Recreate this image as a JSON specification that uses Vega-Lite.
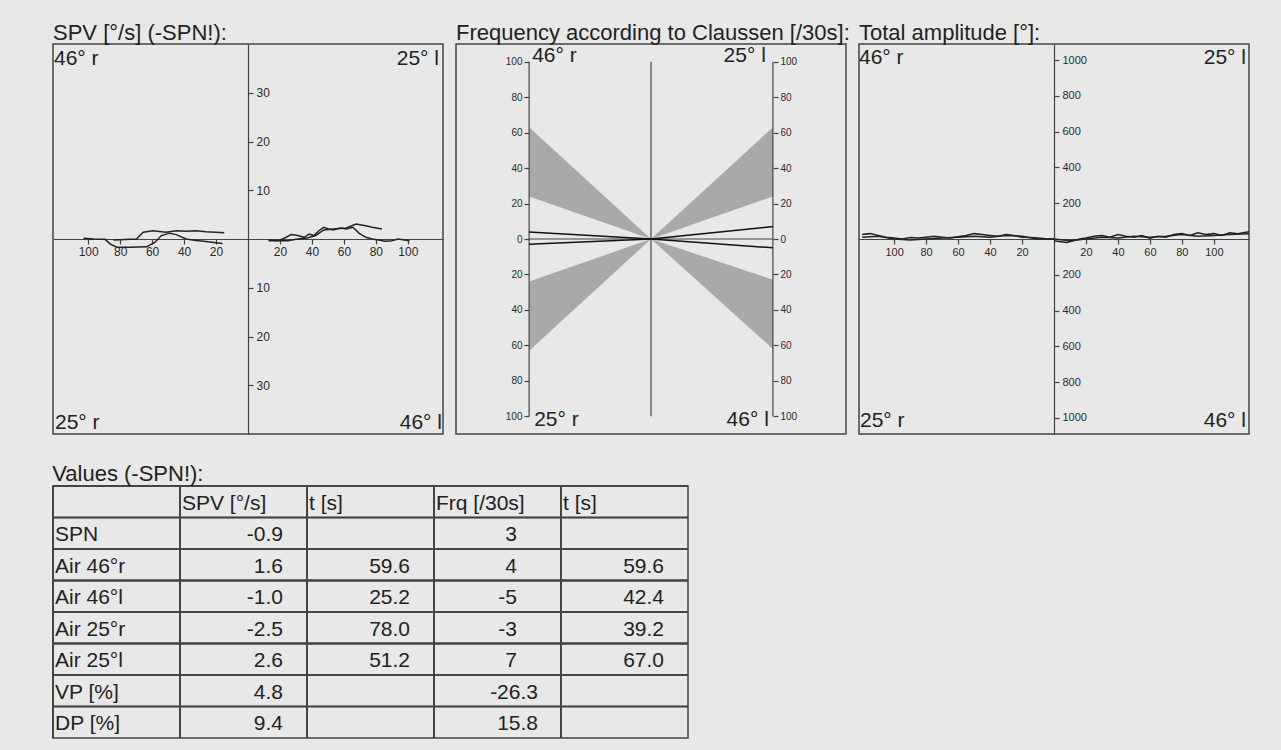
{
  "$schema": "https://vega.github.io/schema/vega-lite/v6.json",
  "background": "#e8e8e8",
  "padding": {"left": 51, "top": 21, "right": 31, "bottom": 12},
  "spacing": 27,
  "config": {
    "font": "Liberation Sans",
    "view": {"stroke": "#444", "strokeWidth": 1.5},
    "title": {"anchor": "start", "fontSize": 22, "fontWeight": "normal", "color": "#222", "font": "Liberation Sans", "offset": -1},
    "axis": {"labelFont": "Liberation Sans", "labelColor": "#2a2a2a", "tickColor": "#444", "domainColor": "#444", "domainWidth": 1.2, "tickWidth": 1.2, "grid": false, "labelOverlap": false, "labelBound": false, "labelFlush": false},
    "text": {"font": "Liberation Sans", "color": "#222"}
  },
  "vconcat": [
    {
      "bounds": "flush",
      "spacing": 13,
      "hconcat": [
        {
          "title": "SPV [°/s] (-SPN!):",
          "width": 390,
          "height": 390,
          "resolve": {"axis": {"x": "independent", "y": "independent"}},
          "layer": [
            {
              "data": {"values": [
                {"trace": "L1", "t": -102.9, "v": 0.14}, {"trace": "L1", "t": -96.6, "v": 0}, {"trace": "L1", "t": -89.4, "v": -0.07}, {"trace": "L1", "t": -86.3, "v": -1.0}, {"trace": "L1", "t": -82.2, "v": -1.7}, {"trace": "L1", "t": -73.9, "v": -1.7}, {"trace": "L1", "t": -63.5, "v": -1.6}, {"trace": "L1", "t": -58.3, "v": -0.7}, {"trace": "L1", "t": -54.2, "v": 0.7}, {"trace": "L1", "t": -49, "v": 1.2}, {"trace": "L1", "t": -44.9, "v": 0.9}, {"trace": "L1", "t": -38.7, "v": 0}, {"trace": "L1", "t": -32.5, "v": -0.3}, {"trace": "L1", "t": -26.3, "v": -0.5}, {"trace": "L1", "t": -20.1, "v": -0.75}, {"trace": "L1", "t": -15.9, "v": -0.9},
                {"trace": "L2", "t": -84.2, "v": -0.2}, {"trace": "L2", "t": -69.8, "v": 0}, {"trace": "L2", "t": -65.6, "v": 1.4}, {"trace": "L2", "t": -59.4, "v": 1.7}, {"trace": "L2", "t": -51.4, "v": 1.4}, {"trace": "L2", "t": -44.9, "v": 1.7}, {"trace": "L2", "t": -38.7, "v": 1.6}, {"trace": "L2", "t": -32.5, "v": 1.7}, {"trace": "L2", "t": -26.3, "v": 1.5}, {"trace": "L2", "t": -20.1, "v": 1.4}, {"trace": "L2", "t": -14.9, "v": 1.3},
                {"trace": "R1", "t": 12.9, "v": -0.2}, {"trace": "R1", "t": 19, "v": -0.34}, {"trace": "R1", "t": 23, "v": 0.2}, {"trace": "R1", "t": 27, "v": 0.9}, {"trace": "R1", "t": 31.1, "v": 0.7}, {"trace": "R1", "t": 35.2, "v": 0.34}, {"trace": "R1", "t": 38.2, "v": 1.03}, {"trace": "R1", "t": 41.3, "v": 0.7}, {"trace": "R1", "t": 44.3, "v": 1.7}, {"trace": "R1", "t": 47.4, "v": 2.4}, {"trace": "R1", "t": 50.4, "v": 2.05}, {"trace": "R1", "t": 53.4, "v": 1.85}, {"trace": "R1", "t": 57.5, "v": 2.26}, {"trace": "R1", "t": 61.5, "v": 2.05}, {"trace": "R1", "t": 65.6, "v": 2.4}, {"trace": "R1", "t": 69.6, "v": 1.16}, {"trace": "R1", "t": 73.7, "v": 0.34}, {"trace": "R1", "t": 77.7, "v": 0}, {"trace": "R1", "t": 81.8, "v": -0.2}, {"trace": "R1", "t": 85.8, "v": -0.48}, {"trace": "R1", "t": 89.9, "v": -0.34}, {"trace": "R1", "t": 93.9, "v": 0}, {"trace": "R1", "t": 98, "v": -0.2}, {"trace": "R1", "t": 101, "v": -0.34},
                {"trace": "R2", "t": 12.9, "v": -0.34}, {"trace": "R2", "t": 25, "v": -0.34}, {"trace": "R2", "t": 31.1, "v": 0}, {"trace": "R2", "t": 37, "v": 0.2}, {"trace": "R2", "t": 42.3, "v": 0.7}, {"trace": "R2", "t": 47.4, "v": 1.85}, {"trace": "R2", "t": 53.4, "v": 2.05}, {"trace": "R2", "t": 61.5, "v": 2.26}, {"trace": "R2", "t": 67.6, "v": 3.08}, {"trace": "R2", "t": 73.7, "v": 2.7}, {"trace": "R2", "t": 77.7, "v": 2.4}, {"trace": "R2", "t": 83.8, "v": 2.05}
              ]},
              "mark": {"type": "line", "color": "#222", "strokeWidth": 1.5},
              "encoding": {
                "x": {"field": "t", "type": "quantitative", "scale": {"domain": [-122, 122], "nice": false, "zero": false}, "axis": {"orient": "bottom", "offset": -195, "values": [-100, -80, -60, -40, -20, 20, 40, 60, 80, 100], "labelExpr": "'' + abs(datum.value)", "tickSize": 5, "labelPadding": 2, "labelFontSize": 12, "title": null}},
                "y": {"field": "v", "type": "quantitative", "scale": {"domain": [-40, 40], "nice": false}, "axis": {"orient": "right", "offset": -195, "values": [-30, -20, -10, 10, 20, 30], "labelExpr": "'' + abs(datum.value)", "tickSize": 5, "labelPadding": 3, "labelFontSize": 12, "title": null}},
                "detail": {"field": "trace"}
              }
            },
            {"data": {"values": [{"label": "46° r"}]}, "mark": {"type": "text", "fontSize": 21, "align": "left", "baseline": "top", "dx": 1, "dy": 4}, "encoding": {"text": {"field": "label"}, "x": {"datum": -122, "type": "quantitative", "axis": null}, "y": {"datum": 40, "type": "quantitative", "axis": null}}},
            {"data": {"values": [{"label": "25° l"}]}, "mark": {"type": "text", "fontSize": 21, "align": "right", "baseline": "top", "dx": -4, "dy": 4}, "encoding": {"text": {"field": "label"}, "x": {"datum": 122, "type": "quantitative", "axis": null}, "y": {"datum": 40, "type": "quantitative", "axis": null}}},
            {"data": {"values": [{"label": "25° r"}]}, "mark": {"type": "text", "fontSize": 21, "align": "left", "baseline": "alphabetic", "dx": 2, "dy": -5}, "encoding": {"text": {"field": "label"}, "x": {"datum": -122, "type": "quantitative", "axis": null}, "y": {"datum": -40, "type": "quantitative", "axis": null}}},
            {"data": {"values": [{"label": "46° l"}]}, "mark": {"type": "text", "fontSize": 21, "align": "right", "baseline": "alphabetic", "dx": -1, "dy": -5}, "encoding": {"text": {"field": "label"}, "x": {"datum": 122, "type": "quantitative", "axis": null}, "y": {"datum": -40, "type": "quantitative", "axis": null}}}
          ]
        },
        {
          "title": "Frequency according to Claussen [/30s]:",
          "width": 390,
          "height": 390,
          "resolve": {"axis": {"y": "independent"}},
          "layer": [
            {
              "data": {"values": [
                {"fan": "UL", "x": -1, "lo": 24, "hi": 63}, {"fan": "UL", "x": 0, "lo": 0, "hi": 0},
                {"fan": "LL", "x": -1, "lo": -24, "hi": -63}, {"fan": "LL", "x": 0, "lo": 0, "hi": 0},
                {"fan": "UR", "x": 0, "lo": 0, "hi": 0}, {"fan": "UR", "x": 1, "lo": 24, "hi": 63},
                {"fan": "LR", "x": 0, "lo": 0, "hi": 0}, {"fan": "LR", "x": 1, "lo": -23, "hi": -62}
              ]},
              "mark": {"type": "area", "color": "#a9a9a9", "opacity": 1},
              "encoding": {
                "x": {"field": "x", "type": "quantitative", "scale": {"domain": [-1.6, 1.6], "nice": false, "zero": false}, "axis": null},
                "y": {"field": "lo", "type": "quantitative", "scale": {"domain": [-110, 110], "nice": false}, "axis": {"orient": "left", "offset": -73, "values": [-100, -80, -60, -40, -20, 0, 20, 40, 60, 80, 100], "labelExpr": "'' + abs(datum.value)", "domain": false, "tickSize": 5, "labelPadding": 2, "labelFontSize": 10, "title": null}},
                "y2": {"field": "hi"},
                "detail": {"field": "fan"}
              }
            },
            {
              "data": {"values": [{"pos": -1}, {"pos": 0}, {"pos": 1}]},
              "mark": {"type": "rule", "color": "#444", "strokeWidth": 1.2},
              "encoding": {
                "x": {"field": "pos", "type": "quantitative", "axis": null},
                "y": {"datum": -100, "type": "quantitative", "axis": null},
                "y2": {"datum": 100}
              }
            },
            {
              "data": {"values": [{"pos": 0}]},
              "mark": {"type": "rule", "color": "#444", "strokeWidth": 1.2},
              "encoding": {
                "x": {"datum": -1, "type": "quantitative", "axis": null},
                "x2": {"datum": 1},
                "y": {"field": "pos", "type": "quantitative", "axis": null}
              }
            },
            {
              "data": {"values": [
                {"series": "Air 46°r", "x": 0, "f": 0}, {"series": "Air 46°r", "x": -1, "f": 4},
                {"series": "Air 25°r", "x": 0, "f": 0}, {"series": "Air 25°r", "x": -1, "f": -3},
                {"series": "Air 25°l", "x": 0, "f": 0}, {"series": "Air 25°l", "x": 1, "f": 7},
                {"series": "Air 46°l", "x": 0, "f": 0}, {"series": "Air 46°l", "x": 1, "f": -5}
              ]},
              "mark": {"type": "line", "color": "#111", "strokeWidth": 1.5},
              "encoding": {
                "x": {"field": "x", "type": "quantitative", "axis": null},
                "y": {"field": "f", "type": "quantitative", "axis": {"orient": "right", "offset": -73, "values": [-100, -80, -60, -40, -20, 0, 20, 40, 60, 80, 100], "labelExpr": "'' + abs(datum.value)", "domain": false, "tickSize": 5, "labelPadding": 2, "labelFontSize": 10, "title": null}},
                "detail": {"field": "series"}
              }
            },
            {"data": {"values": [{"label": "46° r"}]}, "mark": {"type": "text", "fontSize": 21, "align": "left", "baseline": "top", "dx": 3, "dy": 1}, "encoding": {"text": {"field": "label"}, "x": {"datum": -1, "type": "quantitative", "axis": null}, "y": {"datum": 110, "type": "quantitative", "axis": null}}},
            {"data": {"values": [{"label": "25° l"}]}, "mark": {"type": "text", "fontSize": 21, "align": "right", "baseline": "top", "dx": -7, "dy": 1}, "encoding": {"text": {"field": "label"}, "x": {"datum": 1, "type": "quantitative", "axis": null}, "y": {"datum": 110, "type": "quantitative", "axis": null}}},
            {"data": {"values": [{"label": "25° r"}]}, "mark": {"type": "text", "fontSize": 21, "align": "left", "baseline": "alphabetic", "dx": 5, "dy": -8}, "encoding": {"text": {"field": "label"}, "x": {"datum": -1, "type": "quantitative", "axis": null}, "y": {"datum": -110, "type": "quantitative", "axis": null}}},
            {"data": {"values": [{"label": "46° l"}]}, "mark": {"type": "text", "fontSize": 21, "align": "right", "baseline": "alphabetic", "dx": -4, "dy": -8}, "encoding": {"text": {"field": "label"}, "x": {"datum": 1, "type": "quantitative", "axis": null}, "y": {"datum": -110, "type": "quantitative", "axis": null}}}
          ]
        },
        {
          "title": "Total amplitude [°]:",
          "width": 390,
          "height": 390,
          "resolve": {"axis": {"x": "independent", "y": "independent"}},
          "layer": [
            {
              "data": {"values": [
                {"trace": "A", "t": -120, "v": 25}, {"trace": "A", "t": -115, "v": 30}, {"trace": "A", "t": -110, "v": 20}, {"trace": "A", "t": -105, "v": 10}, {"trace": "A", "t": -100, "v": 5}, {"trace": "A", "t": -95, "v": 0}, {"trace": "A", "t": -90, "v": 8}, {"trace": "A", "t": -85, "v": 5}, {"trace": "A", "t": -80, "v": 10}, {"trace": "A", "t": -75, "v": 15}, {"trace": "A", "t": -70, "v": 10}, {"trace": "A", "t": -65, "v": 5}, {"trace": "A", "t": -60, "v": 12}, {"trace": "A", "t": -55, "v": 20}, {"trace": "A", "t": -50, "v": 30}, {"trace": "A", "t": -45, "v": 25}, {"trace": "A", "t": -40, "v": 20}, {"trace": "A", "t": -35, "v": 15}, {"trace": "A", "t": -30, "v": 25}, {"trace": "A", "t": -25, "v": 20}, {"trace": "A", "t": -20, "v": 10}, {"trace": "A", "t": -15, "v": 8}, {"trace": "A", "t": -10, "v": 5}, {"trace": "A", "t": -5, "v": 2}, {"trace": "A", "t": 0, "v": 0},
                {"trace": "B", "t": -120, "v": 10}, {"trace": "B", "t": -110, "v": 15}, {"trace": "B", "t": -100, "v": 0}, {"trace": "B", "t": -90, "v": -5}, {"trace": "B", "t": -80, "v": 0}, {"trace": "B", "t": -70, "v": 5}, {"trace": "B", "t": -60, "v": 10}, {"trace": "B", "t": -50, "v": 15}, {"trace": "B", "t": -40, "v": 10}, {"trace": "B", "t": -30, "v": 20}, {"trace": "B", "t": -20, "v": 15}, {"trace": "B", "t": -10, "v": 0}, {"trace": "B", "t": 0, "v": 0},
                {"trace": "C", "t": 0, "v": -10}, {"trace": "C", "t": 4, "v": -15}, {"trace": "C", "t": 8, "v": -20}, {"trace": "C", "t": 12, "v": -10}, {"trace": "C", "t": 16, "v": 0}, {"trace": "C", "t": 20, "v": 5}, {"trace": "C", "t": 25, "v": 15}, {"trace": "C", "t": 30, "v": 20}, {"trace": "C", "t": 35, "v": 10}, {"trace": "C", "t": 40, "v": 25}, {"trace": "C", "t": 45, "v": 15}, {"trace": "C", "t": 50, "v": 10}, {"trace": "C", "t": 55, "v": 20}, {"trace": "C", "t": 60, "v": 5}, {"trace": "C", "t": 65, "v": 15}, {"trace": "C", "t": 70, "v": 10}, {"trace": "C", "t": 75, "v": 25}, {"trace": "C", "t": 80, "v": 30}, {"trace": "C", "t": 85, "v": 20}, {"trace": "C", "t": 90, "v": 35}, {"trace": "C", "t": 95, "v": 25}, {"trace": "C", "t": 100, "v": 30}, {"trace": "C", "t": 105, "v": 20}, {"trace": "C", "t": 110, "v": 35}, {"trace": "C", "t": 115, "v": 30}, {"trace": "C", "t": 122, "v": 40},
                {"trace": "D", "t": 0, "v": 0}, {"trace": "D", "t": 10, "v": -10}, {"trace": "D", "t": 20, "v": 0}, {"trace": "D", "t": 30, "v": 10}, {"trace": "D", "t": 40, "v": 5}, {"trace": "D", "t": 50, "v": 15}, {"trace": "D", "t": 60, "v": 10}, {"trace": "D", "t": 70, "v": 15}, {"trace": "D", "t": 80, "v": 25}, {"trace": "D", "t": 90, "v": 15}, {"trace": "D", "t": 100, "v": 20}, {"trace": "D", "t": 110, "v": 25}, {"trace": "D", "t": 122, "v": 30}
              ]},
              "mark": {"type": "line", "color": "#222", "strokeWidth": 1.5},
              "encoding": {
                "x": {"field": "t", "type": "quantitative", "scale": {"domain": [-122, 122], "nice": false, "zero": false}, "axis": {"orient": "bottom", "offset": -195, "values": [-100, -80, -60, -40, -20, 20, 40, 60, 80, 100], "labelExpr": "'' + abs(datum.value)", "tickSize": 5, "labelPadding": 2, "labelFontSize": 11, "title": null}},
                "y": {"field": "v", "type": "quantitative", "scale": {"domain": [-1090, 1090], "nice": false}, "axis": {"orient": "right", "offset": -195, "values": [-1000, -800, -600, -400, -200, 200, 400, 600, 800, 1000], "labelExpr": "'' + abs(datum.value)", "tickSize": 5, "labelPadding": 3, "labelFontSize": 11, "title": null}},
                "detail": {"field": "trace"}
              }
            },
            {"data": {"values": [{"label": "46° r"}]}, "mark": {"type": "text", "fontSize": 21, "align": "left", "baseline": "top", "dx": 0, "dy": 3}, "encoding": {"text": {"field": "label"}, "x": {"datum": -122, "type": "quantitative", "axis": null}, "y": {"datum": 1090, "type": "quantitative", "axis": null}}},
            {"data": {"values": [{"label": "25° l"}]}, "mark": {"type": "text", "fontSize": 21, "align": "right", "baseline": "top", "dx": -3, "dy": 3}, "encoding": {"text": {"field": "label"}, "x": {"datum": 122, "type": "quantitative", "axis": null}, "y": {"datum": 1090, "type": "quantitative", "axis": null}}},
            {"data": {"values": [{"label": "25° r"}]}, "mark": {"type": "text", "fontSize": 21, "align": "left", "baseline": "alphabetic", "dx": 1, "dy": -7}, "encoding": {"text": {"field": "label"}, "x": {"datum": -122, "type": "quantitative", "axis": null}, "y": {"datum": -1090, "type": "quantitative", "axis": null}}},
            {"data": {"values": [{"label": "46° l"}]}, "mark": {"type": "text", "fontSize": 21, "align": "right", "baseline": "alphabetic", "dx": -3, "dy": -7}, "encoding": {"text": {"field": "label"}, "x": {"datum": 122, "type": "quantitative", "axis": null}, "y": {"datum": -1090, "type": "quantitative", "axis": null}}}
          ]
        }
      ]
    },
    {
      "title": "Values (-SPN!):",
      "width": 635,
      "height": 252,
      "data": {"values": [
        {"row": "header", "col": "SPV", "text": "SPV [°/s]"}, {"row": "header", "col": "t1", "text": "t [s]"}, {"row": "header", "col": "Frq", "text": "Frq [/30s]"}, {"row": "header", "col": "t2", "text": "t [s]"},
        {"row": "SPN", "col": "label", "text": "SPN"}, {"row": "SPN", "col": "SPV", "text": "-0.9"}, {"row": "SPN", "col": "Frq", "text": "3"},
        {"row": "Air 46°r", "col": "label", "text": "Air 46°r"}, {"row": "Air 46°r", "col": "SPV", "text": "1.6"}, {"row": "Air 46°r", "col": "t1", "text": "59.6"}, {"row": "Air 46°r", "col": "Frq", "text": "4"}, {"row": "Air 46°r", "col": "t2", "text": "59.6"},
        {"row": "Air 46°l", "col": "label", "text": "Air 46°l"}, {"row": "Air 46°l", "col": "SPV", "text": "-1.0"}, {"row": "Air 46°l", "col": "t1", "text": "25.2"}, {"row": "Air 46°l", "col": "Frq", "text": "-5"}, {"row": "Air 46°l", "col": "t2", "text": "42.4"},
        {"row": "Air 25°r", "col": "label", "text": "Air 25°r"}, {"row": "Air 25°r", "col": "SPV", "text": "-2.5"}, {"row": "Air 25°r", "col": "t1", "text": "78.0"}, {"row": "Air 25°r", "col": "Frq", "text": "-3"}, {"row": "Air 25°r", "col": "t2", "text": "39.2"},
        {"row": "Air 25°l", "col": "label", "text": "Air 25°l"}, {"row": "Air 25°l", "col": "SPV", "text": "2.6"}, {"row": "Air 25°l", "col": "t1", "text": "51.2"}, {"row": "Air 25°l", "col": "Frq", "text": "7"}, {"row": "Air 25°l", "col": "t2", "text": "67.0"},
        {"row": "VP [%]", "col": "label", "text": "VP [%]"}, {"row": "VP [%]", "col": "SPV", "text": "4.8"}, {"row": "VP [%]", "col": "Frq", "text": "-26.3"},
        {"row": "DP [%]", "col": "label", "text": "DP [%]"}, {"row": "DP [%]", "col": "SPV", "text": "9.4"}, {"row": "DP [%]", "col": "Frq", "text": "15.8"}
      ]},
      "encoding": {
        "y": {"field": "row", "type": "ordinal", "sort": ["header", "SPN", "Air 46°r", "Air 46°l", "Air 25°r", "Air 25°l", "VP [%]", "DP [%]"], "axis": null, "scale": {"paddingInner": 0, "paddingOuter": 0}},
        "x": {"field": "col", "type": "ordinal", "sort": ["label", "SPV", "t1", "Frq", "t2"], "axis": null, "scale": {"paddingInner": 0, "paddingOuter": 0}}
      },
      "layer": [
        {"mark": {"type": "rule", "color": "#444", "strokeWidth": 1.5}, "encoding": {"x": null, "y": {"field": "row", "type": "ordinal", "sort": ["header", "SPN", "Air 46°r", "Air 46°l", "Air 25°r", "Air 25°l", "VP [%]", "DP [%]"], "axis": null, "bandPosition": 0}}},
        {"mark": {"type": "rule", "color": "#444", "strokeWidth": 1.5}, "encoding": {"y": null, "x": {"field": "col", "type": "ordinal", "sort": ["label", "SPV", "t1", "Frq", "t2"], "axis": null, "bandPosition": 0}}},
        {
          "transform": [{"filter": "datum.col == 'label' || datum.row == 'header'"}],
          "mark": {"type": "text", "fontSize": 21, "align": "left", "baseline": "middle", "dx": 2, "dy": 2},
          "encoding": {"x": {"field": "col", "type": "ordinal", "sort": ["label", "SPV", "t1", "Frq", "t2"], "axis": null, "bandPosition": 0}, "text": {"field": "text"}}
        },
        {
          "transform": [{"filter": "datum.col != 'label' && datum.row != 'header' && datum.col != 'Frq'"}],
          "mark": {"type": "text", "fontSize": 21, "align": "right", "baseline": "middle", "dx": -24, "dy": 2},
          "encoding": {"x": {"field": "col", "type": "ordinal", "sort": ["label", "SPV", "t1", "Frq", "t2"], "axis": null, "bandPosition": 1}, "text": {"field": "text"}}
        },
        {
          "transform": [{"filter": "datum.col == 'Frq' && datum.row != 'header' && indexof(datum.text, '.') < 0"}],
          "mark": {"type": "text", "fontSize": 21, "align": "right", "baseline": "middle", "dx": -44, "dy": 2},
          "encoding": {"x": {"field": "col", "type": "ordinal", "sort": ["label", "SPV", "t1", "Frq", "t2"], "axis": null, "bandPosition": 1}, "text": {"field": "text"}}
        },
        {
          "transform": [{"filter": "datum.col == 'Frq' && datum.row != 'header' && indexof(datum.text, '.') >= 0"}],
          "mark": {"type": "text", "fontSize": 21, "align": "right", "baseline": "middle", "dx": -23, "dy": 2},
          "encoding": {"x": {"field": "col", "type": "ordinal", "sort": ["label", "SPV", "t1", "Frq", "t2"], "axis": null, "bandPosition": 1}, "text": {"field": "text"}}
        }
      ]
    }
  ]
}
